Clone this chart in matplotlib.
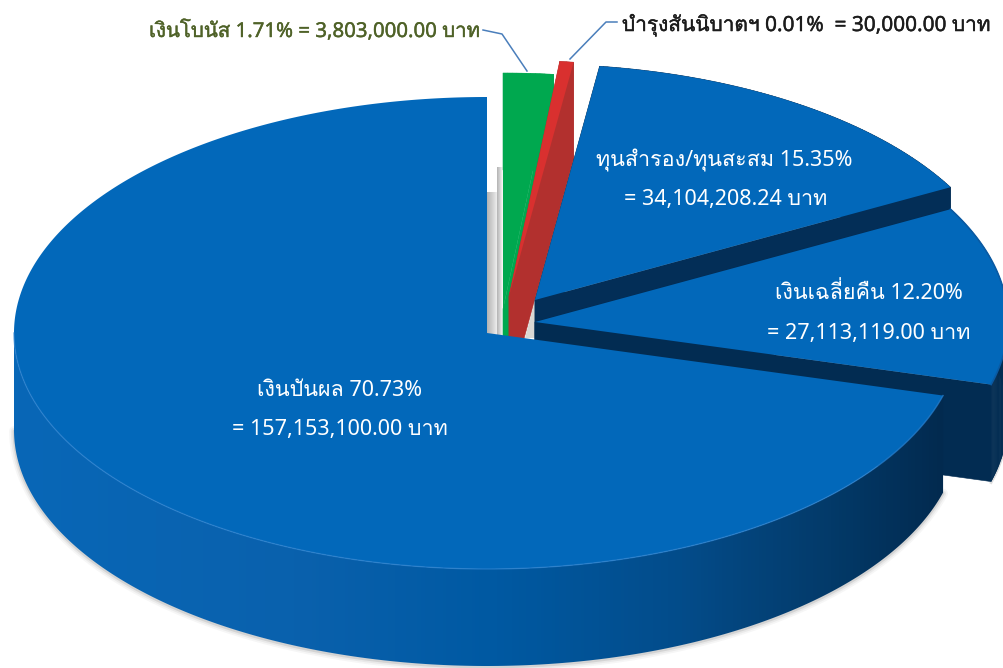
import numpy as np
import matplotlib
matplotlib.use("Agg")
import matplotlib.pyplot as plt
import matplotlib.patheffects as pe
from matplotlib.colors import LinearSegmentedColormap
from matplotlib.patches import Polygon

plt.rcParams['font.family'] = ['Noto Sans', 'Loma', 'Noto Sans Thai', 'DejaVu Sans']

# Slices, clockwise from 12 o'clock; shares as drawn in the picture
slice_names = ["bonus", "welfare", "reserve", "refund", "dividend"]
drawn_shares = [1.71, 0.47, 14.89, 12.20, 70.73]
centers_px = {"bonus": (503, 309), "welfare": (509, 296), "reserve": (535, 300),
              "refund": (535, 322), "dividend": (487, 333)}
top_colors = {"bonus": "#00A84F", "welfare": "#D9302F", "reserve": "#0268BA",
              "refund": "#0268BA", "dividend": "#0268BA"}
side_colors = {"bonus": "#00A84F", "welfare": "#B2302E", "reserve": "#032E57",
               "refund": "#022C52", "dividend": "#022C52"}
draw_order = ["bonus", "welfare", "reserve", "refund", "dividend"]

RX, RY, DEPTH = 473, 236, 97

labels_white = [
    ("ทุนสำรอง/ทุนสะสม 15.35%", 724, 160),
    ("= 34,104,208.24 บาท", 726, 199),
    ("เงินเฉลี่ยคืน 12.20%", 869, 293),
    ("= 27,113,119.00 บาท", 869, 334),
    ("เงินปันผล 70.73%", 340, 391),
    ("= 157,153,100.00 บาท", 340, 430),
]
label_bonus = "เงินโบนัส 1.71% = 3,803,000.00 บาท"
label_welfare = "บำรุงสันนิบาตฯ 0.01%  = 30,000.00 บาท"

fig = plt.figure(figsize=(10.04, 6.68), dpi=100)
ax = fig.add_axes([0, 0, 1, 1])
ax.set_axis_off()

edges = 90 - np.cumsum([0] + drawn_shares) * 3.6
spans = {n: (edges[i], edges[i + 1]) for i, n in enumerate(slice_names)}

def arc(cx, cy, a0, a1, n=None):
    n = n or max(3, int(abs(a1 - a0) * 2))
    t = np.radians(np.linspace(a0, a1, n))
    return cx + RX * np.cos(t), cy - RY * np.sin(t)

grey = LinearSegmentedColormap.from_list("g", ["#B4B4B4", "#D4D4D4", "#FAFAFA"])
grad = np.linspace(0, 1, 32).reshape(1, -1)
ax.imshow(grad, cmap=grey, extent=(487, 499, 335, 192), aspect="auto", zorder=1)
ax.imshow(grad, cmap=grey, extent=(497, 503, 335, 167), aspect="auto", zorder=1.1)

div_end = 360 + spans["dividend"][0]

sx, sy = arc(*centers_px["dividend"], 180, div_end)
for lw, al in [(7, .05), (4.5, .08), (2, .15)]:
    ax.plot(sx, sy + DEPTH + 1, color="#5A5A5A", lw=lw, alpha=al, zorder=1.5, solid_capstyle="round")
sx2, sy2 = arc(*centers_px["refund"], spans["refund"][1], spans["refund"][1] + 8)
ax.plot(sx2, sy2 + DEPTH + 1, color="#5A5A5A", lw=2, alpha=.2, zorder=1.5)

dividend_side = LinearSegmentedColormap.from_list("d", [
    (0.00, "#0867B7"), (0.30, "#0A61AD"), (0.52, "#0059A2"),
    (0.72, "#034C8A"), (0.88, "#033A69"), (1.00, "#022A4F")])

z = 2.0
for name in draw_order:
    a0, a1 = spans[name]
    cx, cy = centers_px[name]
    ax_, ay_ = arc(cx, cy, a0, a1)
    xs = np.r_[cx, ax_]
    ys = np.r_[cy, ay_]
    if name != "dividend":
        for i in range(len(xs)):
            j = (i + 1) % len(xs)
            ax.fill([xs[i], xs[j], xs[j], xs[i]],
                    [ys[i], ys[j], ys[j] + DEPTH, ys[i] + DEPTH],
                    color=side_colors[name], lw=0.4, zorder=z)
    else:
        wx, wy = arc(cx, cy, 180, div_end)
        wall = Polygon(np.c_[np.r_[wx, wx[::-1]], np.r_[wy, wy[::-1] + DEPTH]],
                       closed=True, transform=ax.transData, fc="none", ec="none")
        ax.add_patch(wall)
        im = ax.imshow(np.linspace(0, 1, 256).reshape(1, -1), cmap=dividend_side,
                       extent=(wx.min(), wx.max(), wy.max() + DEPTH, wy.min()),
                       aspect="auto", zorder=z)
        im.set_clip_path(wall)
    z += 0.1
    ax.fill(xs, ys, color=top_colors[name], lw=0, zorder=z)
    z += 0.1
    if name == "welfare":
        ax.fill([525, 535, 535], [338, 300, 338], color="#DAD8D4", lw=0, zorder=z)
        z += 0.1

rx_, ry_ = arc(*centers_px["dividend"], 180, div_end)
ax.plot(rx_, ry_, color="#2A80CE", lw=1.0, alpha=.7, zorder=z)
rx_, ry_ = arc(*centers_px["refund"], spans["refund"][0], spans["refund"][1])
ax.plot(rx_, ry_, color="#0A5AA3", lw=1.2, zorder=z)

ax.plot([483, 502, 527], [30, 34, 71], color="#4A7EBB", lw=1.1, zorder=z + 1)
ax.plot([617, 606, 570], [22, 22, 59], color="#4A7EBB", lw=1.1, zorder=z + 1)

for txt, x, y in labels_white:
    ax.text(x, y, txt, color="white", fontsize=15.5, ha="center", va="center", zorder=z + 2)
ax.text(149, 31, label_bonus, color="#4F6228", fontsize=14.7, ha="left", va="center", zorder=z + 2,
        path_effects=[pe.withStroke(linewidth=0.3, foreground="#4F6228")])
ax.text(622, 25, label_welfare, color="#1C1C1C", fontsize=15, ha="left", va="center", zorder=z + 2,
        path_effects=[pe.withStroke(linewidth=0.3, foreground="#1C1C1C")])

ax.set_xlim(0, 1004)
ax.set_ylim(668, 0)
fig.savefig("out.png", dpi=100, facecolor="white")
